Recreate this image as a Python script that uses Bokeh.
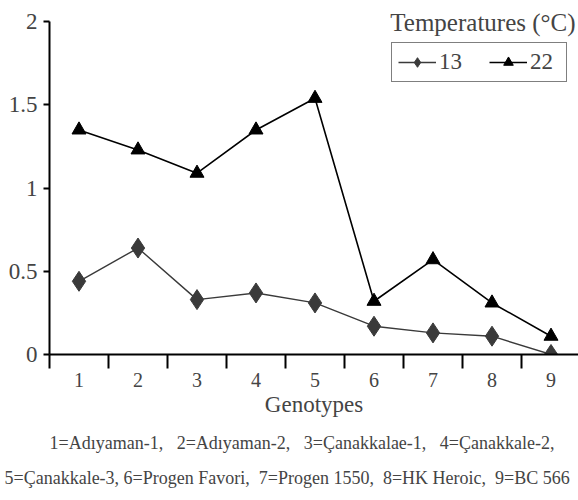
from bokeh.plotting import figure
from bokeh.models import (FixedTicker, Legend, LegendItem, Label, Title, Range1d)
from bokeh.embed import file_html
from bokeh.resources import INLINE

genotypes = [1, 2, 3, 4, 5, 6, 7, 8, 9]
t13 = [0.44, 0.64, 0.33, 0.37, 0.31, 0.17, 0.13, 0.11, 0.0]
t22 = [1.35, 1.23, 1.09, 1.35, 1.54, 0.32, 0.57, 0.31, 0.11]
y_ticks = [0, 0.5, 1, 1.5, 2]
y_tick_labels = {0: "0", 0.5: "0.5", 1: "1", 1.5: "1.5", 2: "2"}
x_boundaries = [0.5, 1.5, 2.5, 3.5, 4.5, 5.5, 6.5, 7.5, 8.5, 9.5]
legend_title = "Temperatures (°C)"
x_title = "Genotypes"
NB = "\u00a0"
note_line1 = ("1=Adıyaman-1," + NB * 3 + "2=Adıyaman-2," + NB * 3 +
              "3=Çanakkalae-1," + NB * 3 + "4=Çanakkale-2,")
note_line2 = ("5=Çanakkale-3, 6=Progen Favori," + NB * 2 + "7=Progen 1550," + NB * 2 +
              "8=HK Heroic," + NB * 2 + "9=BC 566")

FONT = "Liberation Serif"

X_END = 9.466
p = figure(frame_width=529, frame_height=346, output_backend="svg",
           toolbar_location=None, x_range=Range1d(0.5, X_END), y_range=Range1d(0, 2.08),
           min_border_left=49, min_border_top=8, min_border_right=0, min_border_bottom=0,
           background_fill_color="white", border_fill_color="white")
p.outline_line_color = None
p.grid.visible = False

l13 = p.line(genotypes, t13, line_color="#3a3a3a", line_width=1.4)
m13 = p.scatter(genotypes, t13, marker="diamond", size=20, fill_color="#3a3a3a",
                line_color="#3a3a3a")
l22 = p.line(genotypes, t22, line_color="black", line_width=1.6)
m22 = p.scatter(genotypes, t22, marker="triangle", size=14, fill_color="black",
                line_color="black")

xa = p.xaxis[0]
xa.ticker = FixedTicker(ticks=genotypes, minor_ticks=x_boundaries)
xa.major_tick_out = 0
xa.major_tick_in = 0
xa.minor_tick_out = 14
xa.minor_tick_in = 0
xa.minor_tick_line_color = "black"
xa.minor_tick_line_width = 2
xa.axis_line_width = 2
xa.major_label_text_font = FONT
xa.major_label_text_font_size = "20px"
xa.major_label_standoff = 4
xa.axis_label = x_title
xa.axis_label_text_font = FONT
xa.axis_label_text_font_size = "23px"
xa.axis_label_text_font_style = "normal"
xa.axis_label_standoff = 2

ya = p.yaxis[0]
ya.ticker = FixedTicker(ticks=y_ticks)
ya.bounds = (0, 2)
ya.major_label_overrides = y_tick_labels
ya.major_tick_out = 6
ya.major_tick_in = 0
ya.minor_tick_out = 0
ya.minor_tick_in = 0
ya.major_tick_line_width = 2
ya.axis_line_width = 2
ya.major_label_text_font = FONT
ya.major_label_text_font_size = "23px"
ya.major_label_standoff = 6

legend = Legend(items=[LegendItem(label="13", renderers=[l13, m13]),
                       LegendItem(label="22", renderers=[l22, m22])],
                orientation="horizontal", location=(342, 272),
                border_line_color="black", border_line_width=1.5,
                label_text_font=FONT, label_text_font_size="23px",
                glyph_width=38, glyph_height=24, label_height=24, label_width=30,
                spacing=20, padding=6, margin=0, label_standoff=3,
                background_fill_alpha=1)
p.add_layout(legend, "center")

p.add_layout(Label(x=X_END - 0.05, y=1.995, text=legend_title, text_align="right",
                   text_baseline="middle", text_font=FONT, text_font_size="25px"))

p.add_layout(Title(text=note_line1, align="left", offset=0, text_font=FONT,
                   text_font_size="18px", text_font_style="normal", standoff=22), "below")
p.add_layout(Title(text=note_line2, align="left", offset=-45, text_font=FONT,
                   text_font_size="18px", text_font_style="normal", standoff=4), "below")

open("out.html", "w").write(file_html(p, INLINE))
